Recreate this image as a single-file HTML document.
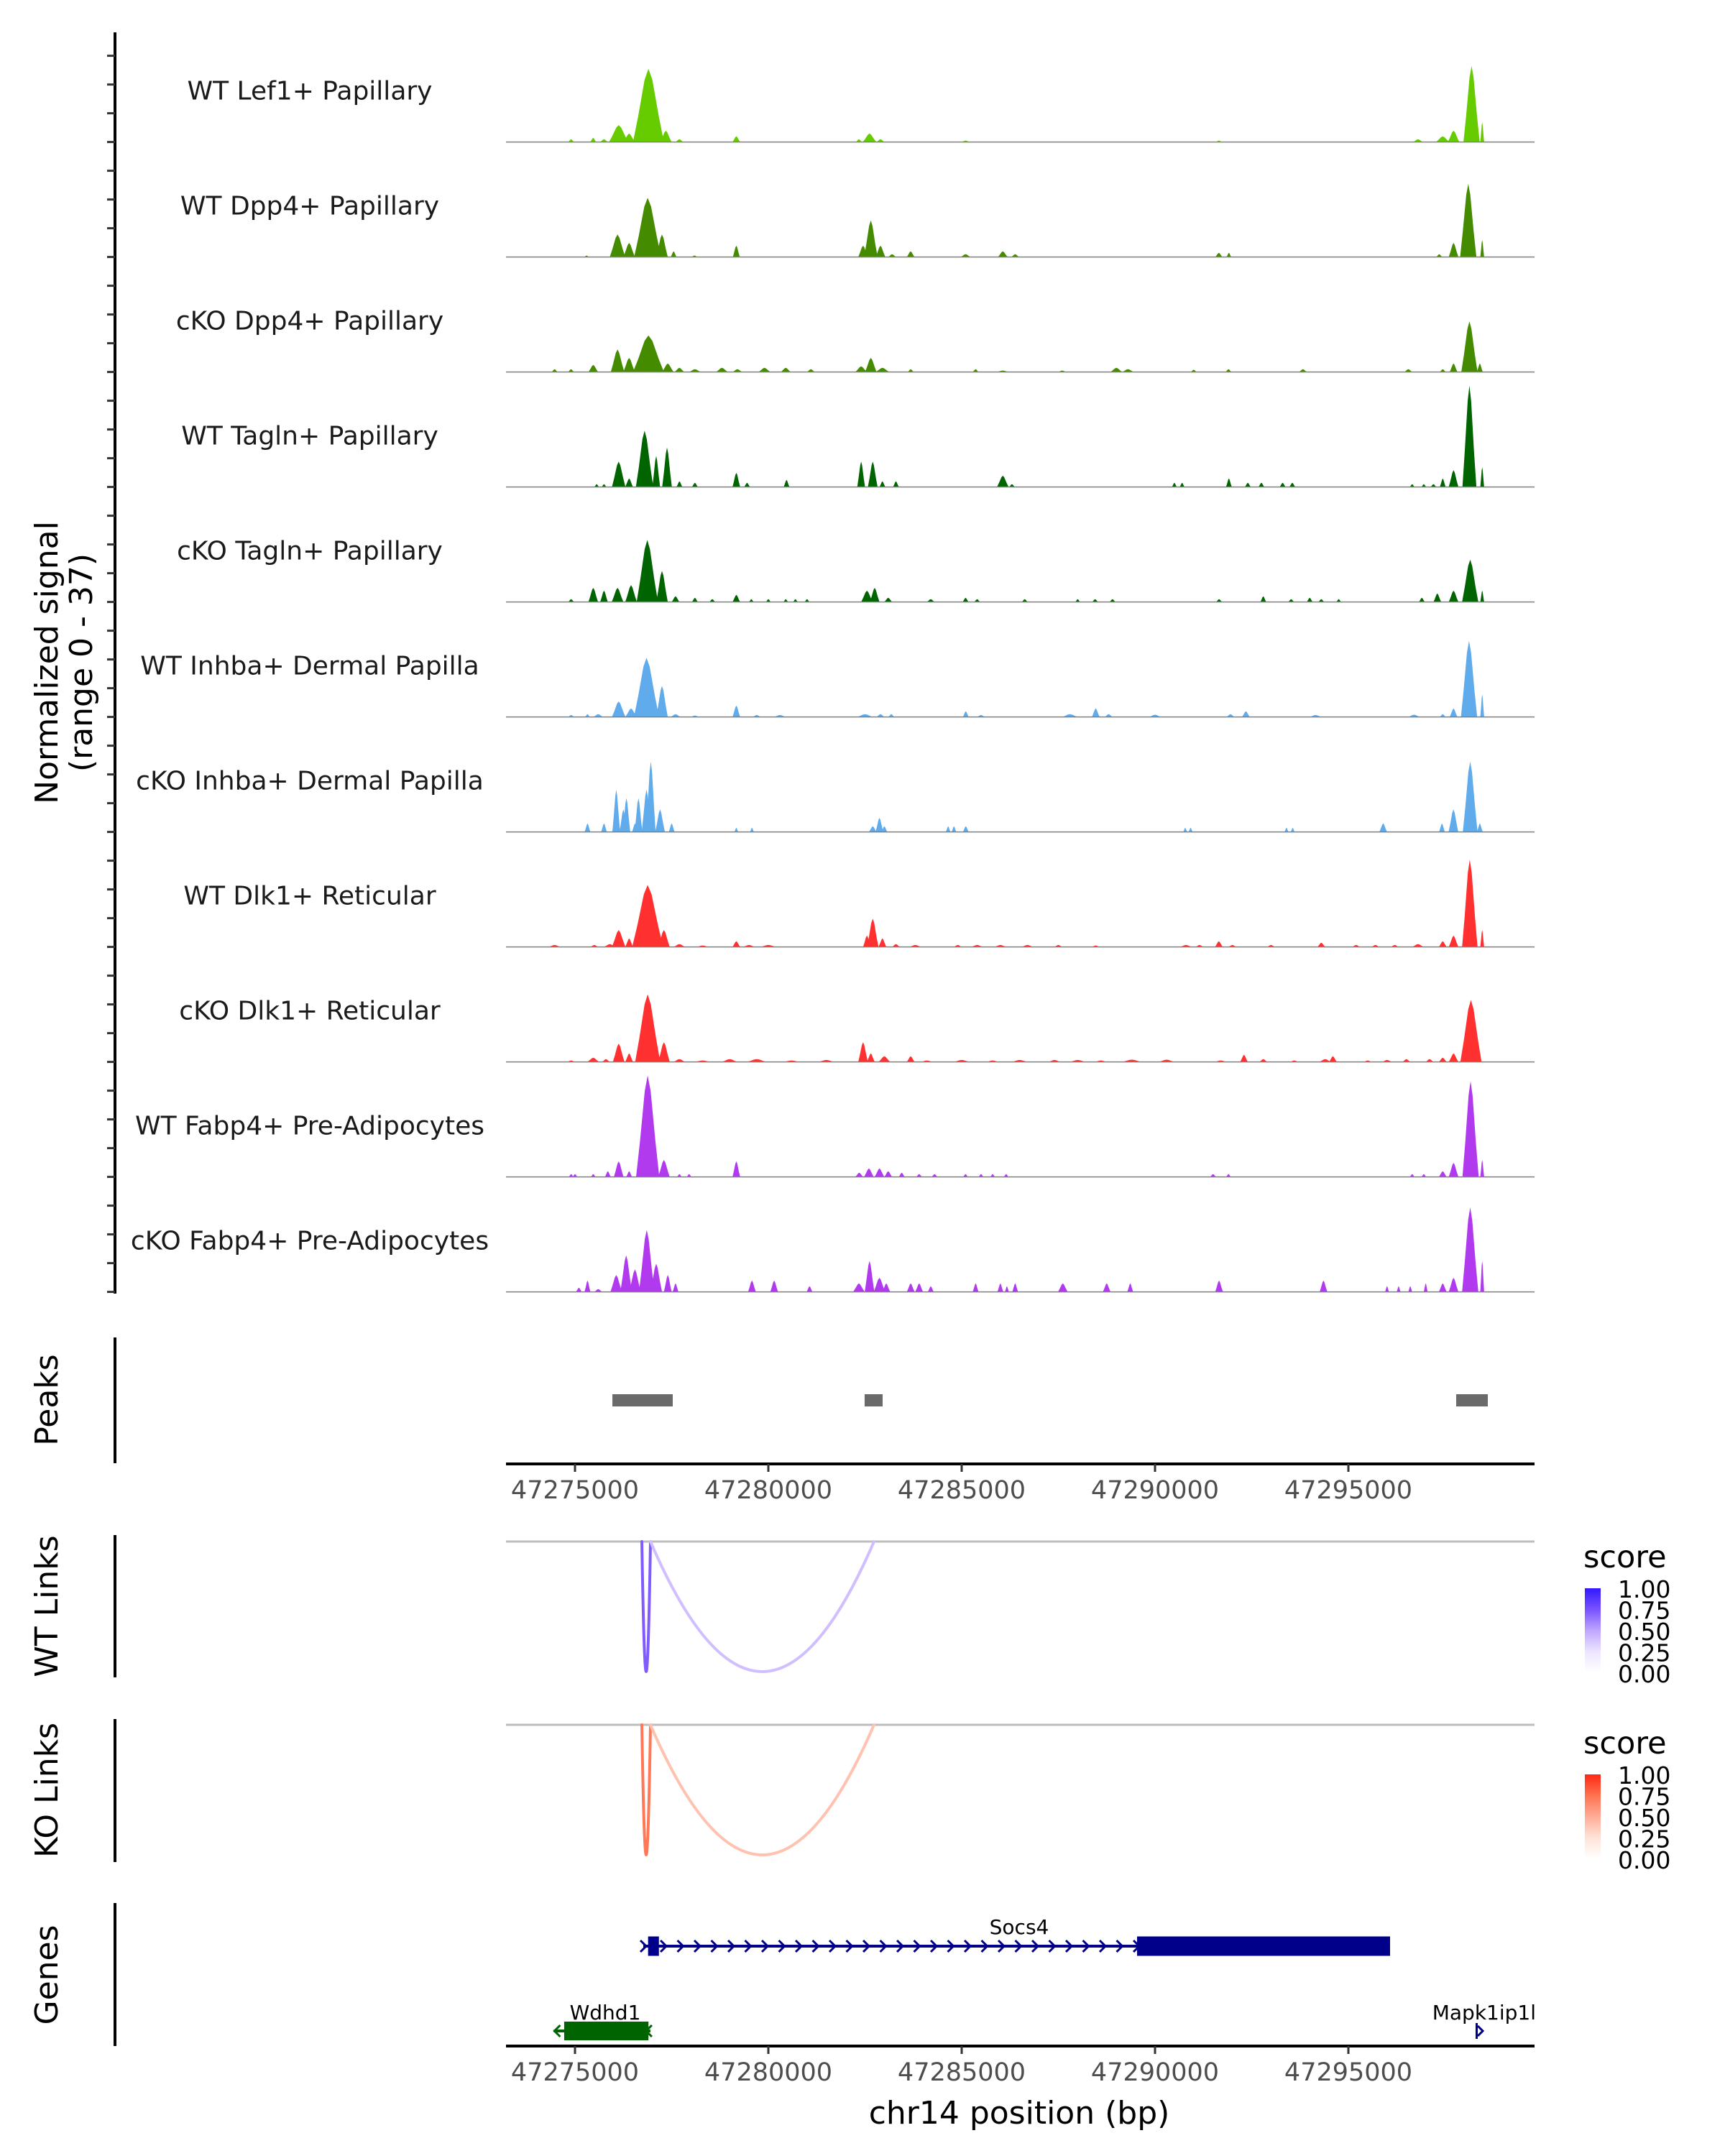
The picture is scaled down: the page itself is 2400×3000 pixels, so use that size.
<!DOCTYPE html>
<html><head><meta charset="utf-8"><style>
html,body{margin:0;padding:0;background:#fff}
svg{display:block;font-family:"DejaVu Sans","Liberation Sans",sans-serif}
</style></head><body>
<svg id="chart" width="2400" height="3000" viewBox="0 0 2400 3000" xmlns="http://www.w3.org/2000/svg"></svg>
<script>
const trackNames = ["WT Lef1+ Papillary","WT Dpp4+ Papillary","cKO Dpp4+ Papillary","WT Tagln+ Papillary","cKO Tagln+ Papillary","WT Inhba+ Dermal Papilla","cKO Inhba+ Dermal Papilla","WT Dlk1+ Reticular","cKO Dlk1+ Reticular","WT Fabp4+ Pre-Adipocytes","cKO Fabp4+ Pre-Adipocytes"];
const trackColors = ["#66cc00","#458b00","#458b00","#006400","#006400","#5fabec","#5fabec","#ff3030","#ff3030","#b23aee","#b23aee"];
const sigLef1 = [[47274900,1,150],[47275470,1.5,150],[47275750,1,200],[47276130,6,500],[47276400,3,300],[47276900,26,800],[47277350,4,300],[47277700,1,200],[47279172,2,200],[47282342,1,150],[47282617,3,350],[47282900,1,200],[47285100,0.5,200],[47291650,0.5,150],[47296800,1,250],[47297440,2,350],[47297720,4,300],[47298186,27,420],[47298461,7,100]];
const sigDpp4 = [[47275300,0.5,120],[47276100,8,400],[47276400,5,300],[47276880,21,700],[47277250,8,300],[47277550,2,150],[47278090,0.5,150],[47279172,4,180],[47282450,4,250],[47282650,13,350],[47282900,4,250],[47283200,1,200],[47283680,2,200],[47285100,1,250],[47286063,2,250],[47286383,1,200],[47291650,1.5,180],[47291910,1.5,120],[47297350,1,150],[47297720,5,250],[47298100,26,420],[47298461,6,100]];
const sigCkoDpp4 = [[47274472,1,150],[47274898,1,150],[47275472,2.5,250],[47276100,8,350],[47276400,5,300],[47276900,13,800],[47277400,3,300],[47277700,1.5,250],[47278100,1,300],[47278800,1.5,300],[47279200,1,250],[47279900,1.5,300],[47280450,1.5,250],[47281100,1,200],[47282400,2,300],[47282650,5,300],[47282950,1.5,350],[47283682,1,150],[47285360,1,150],[47286063,0.5,300],[47287600,0.5,200],[47289000,1.5,300],[47289300,1,300],[47291000,0.8,150],[47291900,1,150],[47293825,1,200],[47296550,1,200],[47297440,1,150],[47297720,3,200],[47298130,18,420],[47298400,3,150]];
const sigTagln = [[47275560,1,120],[47275750,1,120],[47276130,9,350],[47276400,3,200],[47276800,20,450],[47277100,11,200],[47277380,14,250],[47277700,2,150],[47278100,1.5,150],[47279172,5,200],[47279450,1.5,150],[47280470,2.5,150],[47282400,9,200],[47282700,9,250],[47282950,2,150],[47283300,2,150],[47286063,4,300],[47286300,1,150],[47290500,1.5,120],[47290700,1.5,120],[47291910,3,150],[47292400,1.5,150],[47292750,1.5,150],[47293300,1.5,150],[47293550,1.5,150],[47296650,1,120],[47296950,1,120],[47297200,1,150],[47297440,3,150],[47297720,6,250],[47298130,36,360],[47298461,7,100]];
const sigCkoTagln = [[47274900,1,150],[47275472,5,250],[47275750,4,200],[47276100,5,300],[47276450,6,300],[47276870,22,550],[47277250,11,300],[47277600,2,200],[47278100,1.5,150],[47278550,1,150],[47279172,2.5,200],[47279560,1,120],[47280000,1,120],[47280450,1,120],[47280700,1,120],[47281000,1,120],[47282550,4,300],[47282750,5,250],[47283100,1.5,200],[47284200,1,200],[47285100,1.5,150],[47285400,1,150],[47286630,1,150],[47288000,1,120],[47288450,1,150],[47288900,1,150],[47291656,1,150],[47292800,2,150],[47293520,1,150],[47294000,1.5,150],[47294300,1,150],[47294750,1,120],[47296900,1.5,150],[47297300,3,200],[47297720,4,250],[47298150,15,420],[47298461,4,100]];
const sigInhba = [[47274900,0.7,150],[47275323,1,120],[47275600,1,250],[47276130,5.5,350],[47276450,3,300],[47276850,21,650],[47277250,11,300],[47277600,1,250],[47278100,0.5,200],[47279172,4,200],[47279700,0.7,200],[47280300,0.7,300],[47282500,1,400],[47282900,1,200],[47283180,1,150],[47285106,2,150],[47285500,0.7,200],[47287800,1,400],[47288466,3,200],[47288800,1,200],[47290000,0.8,300],[47291950,1,200],[47292350,2,200],[47294150,0.7,300],[47296700,0.8,300],[47297440,1,150],[47297720,3,200],[47298120,27,420],[47298461,8,100]];
const sigCkoInhba = [[47275323,3,150],[47275750,3,150],[47276067,15,200],[47276250,8,200],[47276330,12,200],[47276550,3,150],[47276641,12,200],[47276850,15,250],[47276961,25,250],[47277200,8,250],[47277500,3,150],[47279172,1.5,100],[47279576,1.5,100],[47282700,2,200],[47282873,5,200],[47283000,2,150],[47284650,2,120],[47284800,2,120],[47285106,2,150],[47290780,1.5,100],[47290920,1.5,100],[47293400,1.5,100],[47293560,1.5,100],[47295900,3,200],[47297420,3,150],[47297717,8,250],[47298150,25,380],[47298400,3,150]];
const sigDlk1 = [[47274472,0.7,300],[47275500,0.7,200],[47275900,1,300],[47276130,6,350],[47276400,3,200],[47276880,22,800],[47277300,6,300],[47277700,1,300],[47278300,0.5,300],[47279172,2,200],[47279500,0.7,300],[47280000,0.7,400],[47282550,4,200],[47282700,10,300],[47282950,3,200],[47283300,1,200],[47283800,0.7,300],[47284900,0.7,200],[47285400,0.7,300],[47286000,0.7,300],[47286700,0.7,300],[47287500,0.7,200],[47288466,0.5,200],[47290800,0.7,300],[47291150,0.7,200],[47291650,2,200],[47292000,0.7,200],[47293000,0.7,200],[47294300,1.5,200],[47295200,0.7,200],[47295700,0.7,200],[47296200,0.7,200],[47296800,1,300],[47297440,2,200],[47297720,4,250],[47298140,31,400],[47298461,6,100]];
const sigCkoDlk1 = [[47274900,0.5,200],[47275472,1.5,300],[47275800,1,200],[47276130,6.5,300],[47276400,3,200],[47276880,24,650],[47277300,7,300],[47277700,1,300],[47278300,0.5,400],[47279000,1,400],[47279700,1,500],[47280600,0.5,400],[47281500,0.7,400],[47282450,7,250],[47282650,3,200],[47283000,2,300],[47283682,2,200],[47284100,0.5,300],[47285000,0.7,400],[47285800,0.5,300],[47286500,0.7,400],[47287400,0.7,300],[47288000,0.7,400],[47288600,0.5,300],[47289400,0.8,500],[47290300,0.8,400],[47291700,0.5,300],[47292300,2.5,200],[47292800,1,200],[47293600,0.5,200],[47294400,1,300],[47294600,2,200],[47295500,0.5,200],[47296000,0.7,250],[47296500,1,200],[47297100,1,200],[47297440,1.5,200],[47297720,3,250],[47298170,22,550]];
const sigFabp4 = [[47274900,1,120],[47275000,1,120],[47275472,1,120],[47275850,2,150],[47276130,5.5,250],[47276400,2,150],[47276880,36,600],[47277300,6,300],[47277700,1,120],[47277950,1,120],[47279172,5.5,200],[47282350,1.5,200],[47282600,3,250],[47282873,3,250],[47283100,2,200],[47283450,1.5,150],[47283900,1,150],[47284300,1,150],[47285100,1,120],[47285500,1,120],[47285800,1,120],[47286150,1,120],[47291500,1,150],[47291900,1,120],[47296650,1,120],[47296950,1,120],[47297440,2,200],[47297720,5,250],[47298160,34,420],[47298461,6,100]];
const sigCkoFabp4 = [[47275100,1.5,150],[47275323,4,150],[47275600,1,200],[47276067,6,300],[47276323,13,300],[47276550,8,300],[47276855,22,400],[47277100,10,300],[47277400,6,200],[47277600,3,150],[47279576,4,200],[47280150,4,200],[47281065,2,150],[47282342,3,300],[47282617,11,250],[47282873,5,300],[47283050,3,200],[47283682,3,200],[47283900,3,200],[47284200,2,150],[47285360,3,150],[47286000,3,150],[47286169,2,100],[47286383,3,150],[47287615,3,250],[47288750,3,200],[47289358,3,150],[47291656,4,200],[47294356,4,200],[47296000,2,100],[47296300,2,100],[47296600,2,100],[47297000,3,100],[47297440,3,200],[47297720,5,250],[47298150,30,420],[47298461,11,100]];
const signals = [sigLef1,sigDpp4,sigCkoDpp4,sigTagln,sigCkoTagln,sigInhba,sigCkoInhba,sigDlk1,sigCkoDlk1,sigFabp4,sigCkoFabp4];
const peakRegions = [[47275967,47277528],[47282490,47282955],[47297788,47298606]];
const xTicks = [47275000,47280000,47285000,47290000,47295000];
const wtLinks = [[47276729,47276952,0.72],[47276952,47282732,0.4]];
const koLinks = [[47276729,47276952,0.72],[47276952,47282732,0.4]];
const legendLabels = ["1.00","0.75","0.50","0.25","0.00"];
const socs4 = {start:47276766, end:47296078, exons:[[47276890,47277170],[47289535,47296078]]};
const wdhd1 = {start:47274450, end:47276950, exons:[[47274720,47276900]]};
const mapk = {start:47298290, end:47298420};

const NS="http://www.w3.org/2000/svg";
const svg=document.getElementById('chart');
function el(tag,attrs,parent){const e=document.createElementNS(NS,tag);for(const k in attrs)e.setAttribute(k,attrs[k]);(parent||svg).appendChild(e);return e;}
const X0=704,X1=2135;
function xs(bp){return 800+(bp-47275000)*269/5000;}
const BASE0=197.6, STEP=160, UNIT=145/37;
function ys(i,v){return BASE0+STEP*i-v*UNIT;}

let a=el('line',{x1:160,y1:45,x2:160,y2:1800,stroke:'#000','stroke-width':4});


for(let i=0;i<11;i++){
  for(let k=0;k<4;k++){
    const y=BASE0+STEP*i-k*40;
    const t=el('line',{x1:149,y1:y,x2:160,y2:y,stroke:'#333','stroke-width':3});
    
    
  }
}
const yt=el('text',{transform:'translate(0,922) rotate(-90)','text-anchor':'middle','font-size':44,fill:'#000'});


const t1=el('tspan',{x:0,y:80},yt);t1.textContent='Normalized signal';
const t2=el('tspan',{x:0,y:128},yt);t2.textContent='(range 0 - 37)';

for(let i=0;i<11;i++){
  const g=el('g',{});
  
  
  const lab=el('text',{x:431,y:BASE0+STEP*i-59,'text-anchor':'middle','font-size':36,fill:'#1a1a1a'},g);
  lab.textContent=trackNames[i];
  
  
  const base=BASE0+STEP*i;
  signals[i].forEach(p=>{
    const c=xs(p[0]),w=p[2]*269/5000,top=ys(i,p[1]),h=base-top;
    const pts=[[c-w/2,base],[c-w/3,base-h*0.35],[c-w/8,base-h*0.85],[c,top],[c+w/8,base-h*0.85],[c+w/3,base-h*0.35],[c+w/2,base]].map(q=>q[0].toFixed(1)+','+q[1].toFixed(1)).join(' ');
    const pg=el('polygon',{points:pts,fill:trackColors[i]},g);
    
    
  });
  const bl=el('line',{x1:X0,y1:base,x2:X1,y2:base,stroke:'#808080','stroke-width':1.5},g);
  
  
}

function sideLabel(txt,cy,name){
  const t=el('text',{transform:`translate(80,${cy}) rotate(-90)`,'text-anchor':'middle','font-size':44,fill:'#000'});
  t.textContent=txt;
  
  
}
function sideAxis(y1,y2,name){
  const l=el('line',{x1:160,y1:y1,x2:160,y2:y2,stroke:'#000','stroke-width':4});
  
  
}
sideLabel('Peaks',1948,'peaks-label');
sideAxis(1861,2036,'peaks-axis');
peakRegions.forEach(r=>{
  const rc=el('rect',{x:xs(r[0]),y:1940,width:xs(r[1])-xs(r[0]),height:17,fill:'#6a6a6a'});
  
  
});
function xAxis(y,name){
  const l=el('line',{x1:X0,y1:y,x2:X1,y2:y,stroke:'#000','stroke-width':4});
  
  
  xTicks.forEach(v=>{
    const tk=el('line',{x1:xs(v),y1:y,x2:xs(v),y2:y+11,stroke:'#333','stroke-width':3});
    
    
    const tl=el('text',{x:xs(v),y:y+48,'text-anchor':'middle','font-size':35,fill:'#4d4d4d'});
    tl.textContent=v;
    
    
  });
}
xAxis(2037,'peaks-x-axis');

const wtStops=[[0,[255,255,255]],[0.25,[236,228,255]],[0.5,[190,165,255]],[0.75,[120,82,255]],[1,[52,24,255]]];
const koStops=[[0,[255,255,255]],[0.25,[255,226,216]],[0.5,[255,172,150]],[0.75,[255,114,80]],[1,[255,40,20]]];
function col(stops,v){for(let i=1;i<stops.length;i++){if(v<=stops[i][0]){const a=stops[i-1],b=stops[i],t=(v-a[0])/(b[0]-a[0]);return 'rgb('+a[1].map((c,j)=>Math.round(c+(b[1][j]-c)*t)).join(',')+')';}}return 'rgb(52,24,255)';}
function linkPanel(links,top,bottom,stops,label,lcy,ay1,ay2,legY,key){
  sideLabel(label,lcy,key+'-links-label');
  sideAxis(ay1,ay2,key+'-links-axis');
  const gl=el('line',{x1:X0,y1:top,x2:X1,y2:top,stroke:'#bebebe','stroke-width':3});
  
  
  links.forEach(l=>{
    const x1=xs(l[0]),x2=xs(l[1]),d=(bottom-top)*2,mx=(x1+x2)/2;
    const p=el('path',{d:`M${x1},${top} Q${mx},${top+d} ${x2},${top}`,fill:'none',stroke:col(stops,l[2]),'stroke-width':4,'stroke-linecap':'round'});
    
    
  });
  const st=el('text',{x:2203,y:legY,'font-size':43,fill:'#000'});
  st.textContent='score';
  
  
  const gid='grad'+key;
  const defs=el('defs',{});
  const lg=el('linearGradient',{id:gid,x1:0,y1:1,x2:0,y2:0},defs);
  stops.forEach(s=>el('stop',{offset:s[0],'stop-color':'rgb('+s[1].join(',')+')'},lg));
  const cb=el('rect',{x:2205,y:legY+29,width:22,height:117,fill:`url(#${gid})`});
  
  
  legendLabels.forEach((t,i)=>{
    const tx=el('text',{x:2251,y:legY+42+i*29.5,'font-size':33,fill:'#000'});
    tx.textContent=t;
    
    
  });
}
linkPanel(wtLinks,2145,2326,wtStops,'WT Links',2235,2136,2334,2181,'wt');
linkPanel(koLinks,2400,2581,koStops,'KO Links',2491,2392,2591,2440,'ko');

sideLabel('Genes',2748,'genes-label');
sideAxis(2648,2847,'genes-axis');
const gy=2708;
const sl=el('line',{x1:xs(socs4.start),y1:gy,x2:xs(socs4.end),y2:gy,stroke:'#00008b','stroke-width':4});


for(let x=xs(socs4.start)+28;x<xs(socs4.exons[1][0]);x+=23.5){
  const c=el('path',{d:`M${x-4},${gy-8} L${x+4},${gy} L${x-4},${gy+8}`,fill:'none',stroke:'#00008b','stroke-width':3});
  
  
}
const sc0=el('path',{d:`M${xs(socs4.start)-4},${gy-8} L${xs(socs4.start)+4},${gy} L${xs(socs4.start)-4},${gy+8}`,fill:'none',stroke:'#00008b','stroke-width':3});


socs4.exons.forEach(e=>{
  const r=el('rect',{x:xs(e[0]),y:gy-13.5,width:xs(e[1])-xs(e[0]),height:27,fill:'#00008b'});
  
  
});
const sn=el('text',{x:1418,y:2691,'text-anchor':'middle','font-size':28,fill:'#000'});
sn.textContent='Socs4';


const wy=2826;
const wl=el('line',{x1:xs(wdhd1.start),y1:wy,x2:xs(wdhd1.end),y2:wy,stroke:'#006400','stroke-width':4});


[xs(wdhd1.start)+5,xs(wdhd1.end)-2].forEach(x=>{
  const c=el('path',{d:`M${x+4},${wy-8} L${x-4},${wy} L${x+4},${wy+8}`,fill:'none',stroke:'#006400','stroke-width':3});
  
  
});
wdhd1.exons.forEach(e=>{
  const r=el('rect',{x:xs(e[0]),y:wy-13,width:xs(e[1])-xs(e[0]),height:26,fill:'#006400'});
  
  
});
const wn=el('text',{x:842,y:2810,'text-anchor':'middle','font-size':28,fill:'#000'});
wn.textContent='Wdhd1';


const mr=el('rect',{x:xs(mapk.start),y:wy-11,width:3,height:22,fill:'#00008b'});


const mc=el('path',{d:`M${xs(mapk.start)+3},${wy-7} L${xs(mapk.start)+10},${wy} L${xs(mapk.start)+3},${wy+7}`,fill:'none',stroke:'#00008b','stroke-width':3});


const mn=el('text',{x:2137,y:2810,'text-anchor':'end','font-size':28,fill:'#000'});
mn.textContent='Mapk1ip1l';



xAxis(2847,'genes-x-axis');
const xt=el('text',{x:1418,y:2955,'text-anchor':'middle','font-size':44,fill:'#000'});
xt.textContent='chr14 position (bp)';


</script>
</body></html>
